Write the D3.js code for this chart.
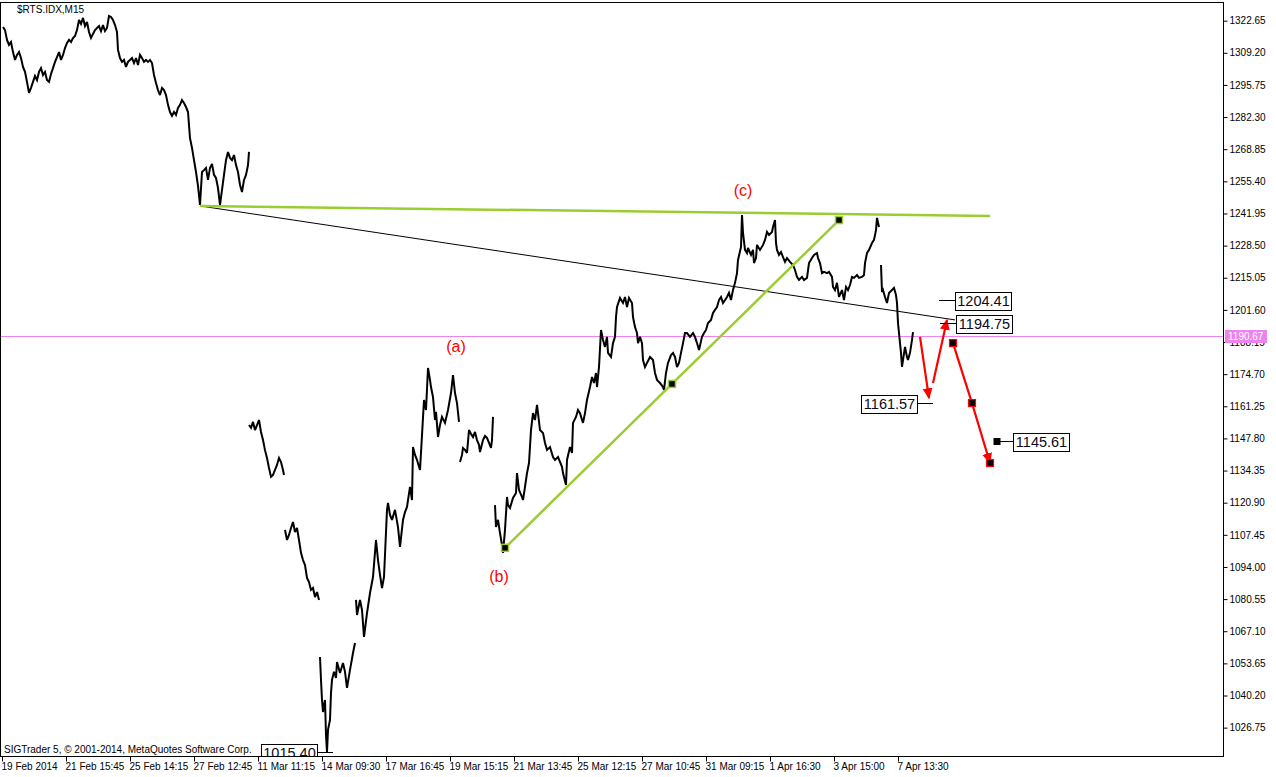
<!DOCTYPE html>
<html><head><meta charset="utf-8">
<script src="https://cdn.jsdelivr.net/npm/d3@7"></script>
<style>
html,body{margin:0;padding:0;background:#fff;}
svg{display:block;}
.ax text{font-family:"Liberation Sans",Arial,sans-serif;font-size:10px;fill:#000;}
.ax line{stroke:#000;}
.lbl{font-family:"Liberation Sans",Arial,sans-serif;font-size:14.5px;fill:#0a0a20;}
</style></head><body>
<script>
// ---------- DATA ----------
const symbolTitle = "$RTS.IDX,M15";
const copyright = "SIGTrader 5, \u00a9 2001-2014, MetaQuotes Software Corp.";
const yTicks = [1322.65,1309.20,1295.75,1282.30,1268.85,1255.40,1241.95,1228.50,1215.05,1201.60,1188.15,1174.70,1161.25,1147.80,1134.35,1120.90,1107.45,1094.00,1080.55,1067.10,1053.65,1040.20,1026.75];
const xTickIdx = [2,66,130,194,258,322,386,450,514,578,642,706,770,834,898];
const xLabels = ["19 Feb 2014","21 Feb 15:45","25 Feb 14:15","27 Feb 12:45","11 Mar 11:15","14 Mar 09:30","17 Mar 16:45","19 Mar 15:15","21 Mar 13:45","25 Mar 12:15","27 Mar 10:45","31 Mar 09:15","1 Apr 16:30","3 Apr 15:00","7 Apr 13:30"];
const currentPrice = 1190.67;

// price segments: [bar index, price]
const seg1 = [[3,1320.0],[5,1318.7],[7,1314.6],[9,1312.5],[11,1313.7],[13,1309.5],[15,1306.2],[17,1308.3],[19,1309.5],[21,1307.0],[23,1303.3],[25,1301.2],[27,1297.0],[29,1292.4],[31,1294.5],[33,1297.0],[35,1299.5],[37,1297.8],[39,1301.2],[41,1302.8],[43,1299.9],[45,1301.2],[47,1297.8],[49,1297.0],[51,1300.3],[53,1302.8],[55,1305.4],[57,1307.4],[59,1309.5],[61,1306.2],[63,1308.3],[65,1311.2],[67,1313.3],[69,1314.6],[71,1313.7],[73,1315.4],[75,1316.2],[77,1318.7],[79,1322.9],[81,1321.3],[83,1323.8],[85,1320.4],[87,1322.1],[89,1317.9],[91,1315.4],[93,1317.1],[95,1318.7],[97,1319.6],[99,1320.4],[101,1318.3],[103,1320.8],[105,1318.3],[107,1319.6],[109,1324.6],[111,1324.2],[113,1322.9],[115,1320.8],[117,1317.9],[118,1310.4],[120,1307.0],[122,1305.4],[124,1306.2],[126,1303.3],[128,1305.4],[130,1306.2],[132,1307.0],[134,1304.9],[136,1307.0],[138,1304.1],[140,1308.3],[142,1307.0],[144,1305.4],[146,1306.2],[148,1305.4],[150,1306.2],[152,1304.9],[154,1299.9],[156,1296.6],[158,1293.6],[160,1291.5],[162,1294.5],[164,1293.6],[166,1291.5],[168,1287.4],[170,1284.4],[172,1282.8],[174,1284.4],[176,1283.2],[178,1286.1],[180,1287.4],[182,1289.4],[184,1288.2],[186,1286.5],[188,1284.4],[190,1273.5],[192,1269.4],[194,1264.3],[196,1259.3],[198,1253.5],[200,1245.5],[202,1259.3],[204,1260.1],[206,1261.0],[208,1256.0],[210,1261.0],[212,1262.7],[214,1258.1],[216,1256.8],[218,1252.6],[220,1245.5],[222,1251.8],[224,1258.1],[226,1264.3],[228,1267.7],[230,1265.2],[232,1264.3],[234,1266.4],[236,1262.2],[238,1259.3],[240,1253.9],[242,1250.9],[244,1256.0],[246,1258.1],[248,1262.2],[249,1267.7]];
const seg2 = [[249,1153.4],[251,1152.2],[253,1154.7],[255,1151.3],[257,1153.4],[259,1155.5],[261,1150.5],[263,1147.1],[265,1142.9],[267,1139.6],[269,1135.4],[271,1131.7],[273,1132.5],[275,1134.6],[277,1136.7],[279,1139.6],[281,1137.9],[283,1134.6],[284,1132.5]];
const seg3 = [[285,1109.5],[287,1105.3],[289,1107.4],[291,1110.3],[293,1112.8],[295,1108.6],[297,1110.3],[299,1105.3],[301,1099.9],[303,1096.9],[305,1094.8],[307,1089.4],[309,1087.7],[311,1084.4],[313,1085.2],[315,1081.4],[317,1083.5],[319,1080.2]];
const seg4 = [[320,1056.3],[321,1046.7],[322,1038.3],[323,1033.3],[324,1036.2],[325,1038.3],[326,1023.7],[327,1016.6],[328,1025.8],[330,1030.0],[331,1041.3],[332,1046.7],[334,1050.1],[336,1047.5],[337,1054.2],[340,1049.6],[343,1053.8],[345,1050.1],[347,1043.4],[350,1050.9],[353,1058.0],[355,1062.2]];
const seg5 = [[356,1080.2],[357,1073.9],[360,1080.2],[362,1076.0],[364,1064.7],[367,1074.7],[370,1083.1],[373,1089.8],[376,1105.3],[378,1096.9],[380,1090.7],[382,1085.2],[384,1089.8],[387,1117.9],[388,1120.8],[390,1115.8],[392,1113.7],[395,1117.9],[398,1110.7],[400,1102.4],[403,1113.7],[405,1117.0],[407,1119.1],[410,1127.5],[412,1122.0],[413,1144.2],[415,1140.9],[417,1138.8],[420,1134.6],[422,1149.2],[424,1163.9],[426,1159.7],[428,1177.3],[430,1172.3],[431,1169.3],[433,1165.1],[435,1155.5],[436,1158.9],[438,1148.4],[440,1153.4],[442,1156.8],[445,1154.3],[448,1159.7],[451,1166.8],[453,1174.3],[455,1166.8],[457,1162.6],[459,1154.7]];
const seg6 = [[460,1137.9],[462,1140.9],[463,1143.8],[465,1143.0],[467,1141.7],[469,1151.3],[471,1149.7],[473,1148.4],[475,1150.5],[477,1147.1],[479,1145.1],[480,1142.1],[482,1145.5],[483,1147.1],[485,1148.8],[487,1148.0],[489,1145.9],[491,1143.8],[492,1147.1],[493,1156.8]];
const seg7 = [[495,1119.9],[496,1110.7],[498,1113.7],[500,1108.2],[502,1103.2],[503,1099.9],[505,1109.5],[507,1123.3],[508,1119.9],[510,1118.7],[513,1122.9],[516,1125.0],[517,1133.3],[519,1126.2],[522,1123.3],[523,1122.0],[525,1127.5],[527,1133.3],[529,1137.5],[531,1151.3],[533,1158.4],[535,1155.5],[537,1161.8],[538,1158.4],[540,1151.3],[543,1150.1],[545,1145.9],[547,1143.0],[550,1144.2],[553,1140.0],[555,1138.8],[558,1140.0],[562,1135.9],[563,1133.3],[566,1128.3],[567,1138.8],[570,1144.2],[572,1141.7],[573,1154.3],[576,1156.8],[578,1159.7],[580,1158.4],[583,1154.3],[585,1158.4],[587,1163.9],[590,1169.3],[592,1173.5],[594,1171.0],[596,1175.2],[597,1169.3],[599,1177.7],[601,1193.2],[603,1189.0],[605,1186.1],[607,1190.3],[608,1183.6],[611,1181.9],[613,1187.7],[615,1190.3],[616,1198.6],[617,1202.8],[620,1206.6],[623,1204.5],[625,1207.0],[627,1202.8],[629,1206.6],[632,1204.5],[633,1198.6],[635,1194.4],[637,1191.9],[638,1187.7],[640,1190.3],[642,1187.7],[643,1180.6],[645,1177.7],[647,1179.4],[650,1181.9],[653,1180.6],[655,1175.2],[657,1172.3],[660,1171.0],[663,1169.3],[664,1168.1],[666,1175.2],[668,1179.4],[671,1182.7],[673,1183.6],[675,1181.9],[677,1177.7],[679,1179.4],[681,1183.6],[683,1187.7],[685,1191.9],[687,1191.9],[690,1190.3],[693,1191.9],[695,1190.3],[697,1187.7],[699,1184.8],[702,1190.3],[704,1191.9],[706,1193.2],[708,1196.1],[711,1197.4],[713,1200.3],[715,1201.6],[717,1202.8],[719,1205.7],[721,1207.0],[723,1204.5],[725,1205.7],[727,1207.0],[729,1208.7],[731,1205.7],[733,1209.9],[735,1212.9],[737,1217.0],[738,1222.5],[741,1227.9],[742,1241.3],[743,1233.8],[745,1226.7],[747,1225.4],[748,1227.5],[751,1224.6],[753,1226.7],[754,1221.2],[756,1223.3],[757,1228.8],[760,1226.7],[763,1228.8],[765,1230.9],[767,1234.2],[769,1233.0],[772,1234.2],[773,1236.3],[775,1239.2],[776,1229.6],[777,1226.7],[779,1224.6],[781,1225.8],[783,1223.7],[785,1221.7],[787,1223.3],[790,1221.7],[793,1220.4],[795,1218.3],[797,1215.4],[799,1214.1],[802,1215.4],[804,1214.1],[807,1215.0],[809,1221.2],[812,1223.3],[814,1224.6],[817,1225.4],[818,1223.3],[820,1221.2],[822,1217.0],[824,1217.5],[827,1217.0],[829,1217.5],[832,1215.4],[833,1211.2],[835,1209.9],[837,1212.9],[839,1207.0],[842,1209.9],[844,1205.7],[846,1211.2],[848,1209.9],[850,1212.0],[852,1215.4],[854,1215.0],[857,1216.2],[859,1215.0],[862,1215.4],[864,1216.2],[865,1221.2],[867,1225.4],[869,1226.7],[872,1229.6],[874,1230.9],[876,1235.0],[877,1240.1],[879,1236.3]];
const seg8 = [[881,1220.4],[882,1209.1],[883,1209.9],[885,1207.0],[887,1204.5],[889,1208.7],[892,1209.9],[894,1210.8],[896,1207.8],[897,1204.5],[898,1196.1],[899,1191.9],[901,1183.6],[902,1177.7],[903,1180.6],[905,1186.1],[907,1181.9],[908,1180.6],[910,1183.6],[912,1189.0],[913,1192.3]];
const priceSegments = [seg1,seg2,seg3,seg4,seg5,seg6,seg7,seg8];

// drawn objects
const greenFlat = [[200,1245.1],[990,1240.9]];
const blackTrend = [[200,1245.1],[955,1197.4]];
const greenRise = [[505,1102.0],[672,1170.6],[839,1239.2]];
const arrowDown1 = [[920,1190.3],[929,1164.7]];
const arrowUp = [[933,1171.0],[947,1197.4]];
const arrowDown2 = [[953,1187.7],[972,1162.6],[990,1137.5]];
const waveNames = ["(a)","(b)","(c)"];
const wavePos = [[456,1186.1],[499,1089.8],[743,1251.4]];
const priceLabels = [1204.41,1194.75,1161.57,1145.61,1015.40];
const priceLabelAnchor = [939,940,933,997,333];
const priceLabelSide = ["right","right","left","right","left"];

// ---------- CHART ----------
const W = 1276, H = 777;
const svg = d3.select("body").append("svg").attr("width", W).attr("height", H);
const x = d3.scaleLinear().domain([0, 1221]).range([0, 1221]);
const y = d3.scaleLinear().domain([1014.88, 1330.04]).range([756, 3]);
const plotR = 1223, plotB = 756, plotT = 3;

const defs = svg.append("defs");
defs.append("clipPath").attr("id","plot").append("rect").attr("x",0).attr("y",plotT).attr("width",plotR).attr("height",plotB-plotT);
defs.append("marker").attr("id","arr").attr("markerUnits","userSpaceOnUse")
  .attr("viewBox","0 0 10 10").attr("refX",9).attr("refY",5)
  .attr("markerWidth",11).attr("markerHeight",11).attr("orient","auto")
  .append("path").attr("d","M0,0.5 L10,5 L0,9.5 Z").attr("fill","#ff0000");

const plot = svg.append("g").attr("clip-path","url(#plot)");
const line = d3.line().x(d=>x(d[0])).y(d=>y(d[1]));

// current price line
plot.append("line").attr("x1",0).attr("x2",plotR).attr("y1",Math.round(y(currentPrice))+0.5).attr("y2",Math.round(y(currentPrice))+0.5)
  .attr("stroke","#ee82ee").attr("stroke-width",1);

// price series
plot.selectAll("path.px").data(priceSegments).join("path").attr("class","px")
  .attr("d",line).attr("fill","none").attr("stroke","#000").attr("stroke-width",2).attr("stroke-linejoin","miter").attr("stroke-miterlimit",3);

// trend lines
plot.append("path").attr("d",line(blackTrend)).attr("fill","none").attr("stroke","#000").attr("stroke-width",1);
plot.append("path").attr("d",line(greenFlat)).attr("fill","none").attr("stroke","#9acd32").attr("stroke-width",2.5);
plot.append("path").attr("d",line(greenRise)).attr("fill","none").attr("stroke","#9acd32").attr("stroke-width",2.5);
plot.selectAll("rect.gsq").data(greenRise).join("rect").attr("class","gsq")
  .attr("x",d=>x(d[0])-3.5).attr("y",d=>y(d[1])-3.5).attr("width",7).attr("height",7)
  .attr("fill","#000").attr("stroke","#9acd32").attr("stroke-width",1.5);

// red arrows
[arrowDown1, arrowUp, arrowDown2].forEach(a=>{
  plot.append("path").attr("d",line(a)).attr("fill","none").attr("stroke","#ff0000").attr("stroke-width",2.2).attr("marker-end","url(#arr)");
});
plot.selectAll("rect.rsq").data(arrowDown2).join("rect").attr("class","rsq")
  .attr("x",d=>x(d[0])-3.5).attr("y",d=>y(d[1])-3.5).attr("width",7).attr("height",7)
  .attr("fill","#000").attr("stroke","#ff0000").attr("stroke-width",1.2);

// wave labels
plot.selectAll("text.wave").data(waveNames).join("text").attr("class","wave")
  .attr("x",(d,i)=>x(wavePos[i][0])).attr("y",(d,i)=>y(wavePos[i][1]))
  .attr("text-anchor","middle").attr("dominant-baseline","central")
  .attr("font-family","Liberation Sans, Arial, sans-serif").attr("font-size",16).attr("fill","#ff0000").text(d=>d);

// price labels
const lblG = plot.selectAll("g.pl").data(priceLabels).join("g").attr("class","pl");
lblG.each(function(v,i){
  const g = d3.select(this);
  const ay = Math.round(y(v)) - 2.5;
  const ax = x(priceLabelAnchor[i]);
  const right = priceLabelSide[i]==="right";
  const bw = 56, bh = 18;
  const bx = right ? ax+16 : ax-16-bw;
  if (i===3) {
    g.append("rect").attr("x",ax-3.5).attr("y",ay-3.5).attr("width",7).attr("height",7).attr("fill","#000");
  }
  g.append("line").attr("x1",ax).attr("x2",right?bx:bx+bw).attr("y1",ay).attr("y2",ay).attr("stroke","#000");
  g.append("rect").attr("x",Math.round(bx)+0.5).attr("y",Math.round(ay-bh/2)+0.5).attr("width",bw).attr("height",bh)
    .attr("fill","#fff").attr("stroke","#000");
  g.append("text").attr("class","lbl").attr("x",bx+bw/2+0.5).attr("y",ay+5.5).attr("text-anchor","middle").text(v.toFixed(2));
});

// frame
svg.append("rect").attr("x",0.5).attr("y",plotT-0.5).attr("width",plotR).attr("height",plotB-plotT+1)
  .attr("fill","none").attr("stroke","#000");

// axes
const yAx = svg.append("g").attr("class","ax").attr("transform",`translate(${plotR+0.5},0)`)
  .call(d3.axisRight(y).tickValues(yTicks).tickSize(4).tickPadding(2).tickFormat(d=>d.toFixed(2)));
yAx.select(".domain").remove();

const xAx = svg.append("g").attr("class","ax").attr("transform",`translate(0,${plotB+0.5})`)
  .call(d3.axisBottom(x).tickValues(xTickIdx).tickSize(5).tickPadding(2).tickFormat((d,i)=>xLabels[i]));
xAx.select(".domain").remove();
xAx.selectAll("text").attr("text-anchor","start").attr("dx",-1).attr("dy","0.6em");

// current price tag
const cy = Math.round(y(currentPrice));
svg.append("rect").attr("x",plotR+2).attr("y",cy-6).attr("width",42).attr("height",13).attr("fill","#ee82ee");
svg.append("text").attr("x",plotR+5).attr("y",cy+4).attr("font-family","Liberation Sans, Arial, sans-serif")
  .attr("font-size",10).attr("fill","#fff").text(currentPrice.toFixed(2));

// title & copyright
svg.append("text").attr("x",17).attr("y",13).attr("font-family","Liberation Sans, Arial, sans-serif").attr("font-size",10).text(symbolTitle);
svg.append("text").attr("x",4).attr("y",753).attr("font-family","Liberation Sans, Arial, sans-serif").attr("font-size",10).text(copyright);
</script>
</body></html>
